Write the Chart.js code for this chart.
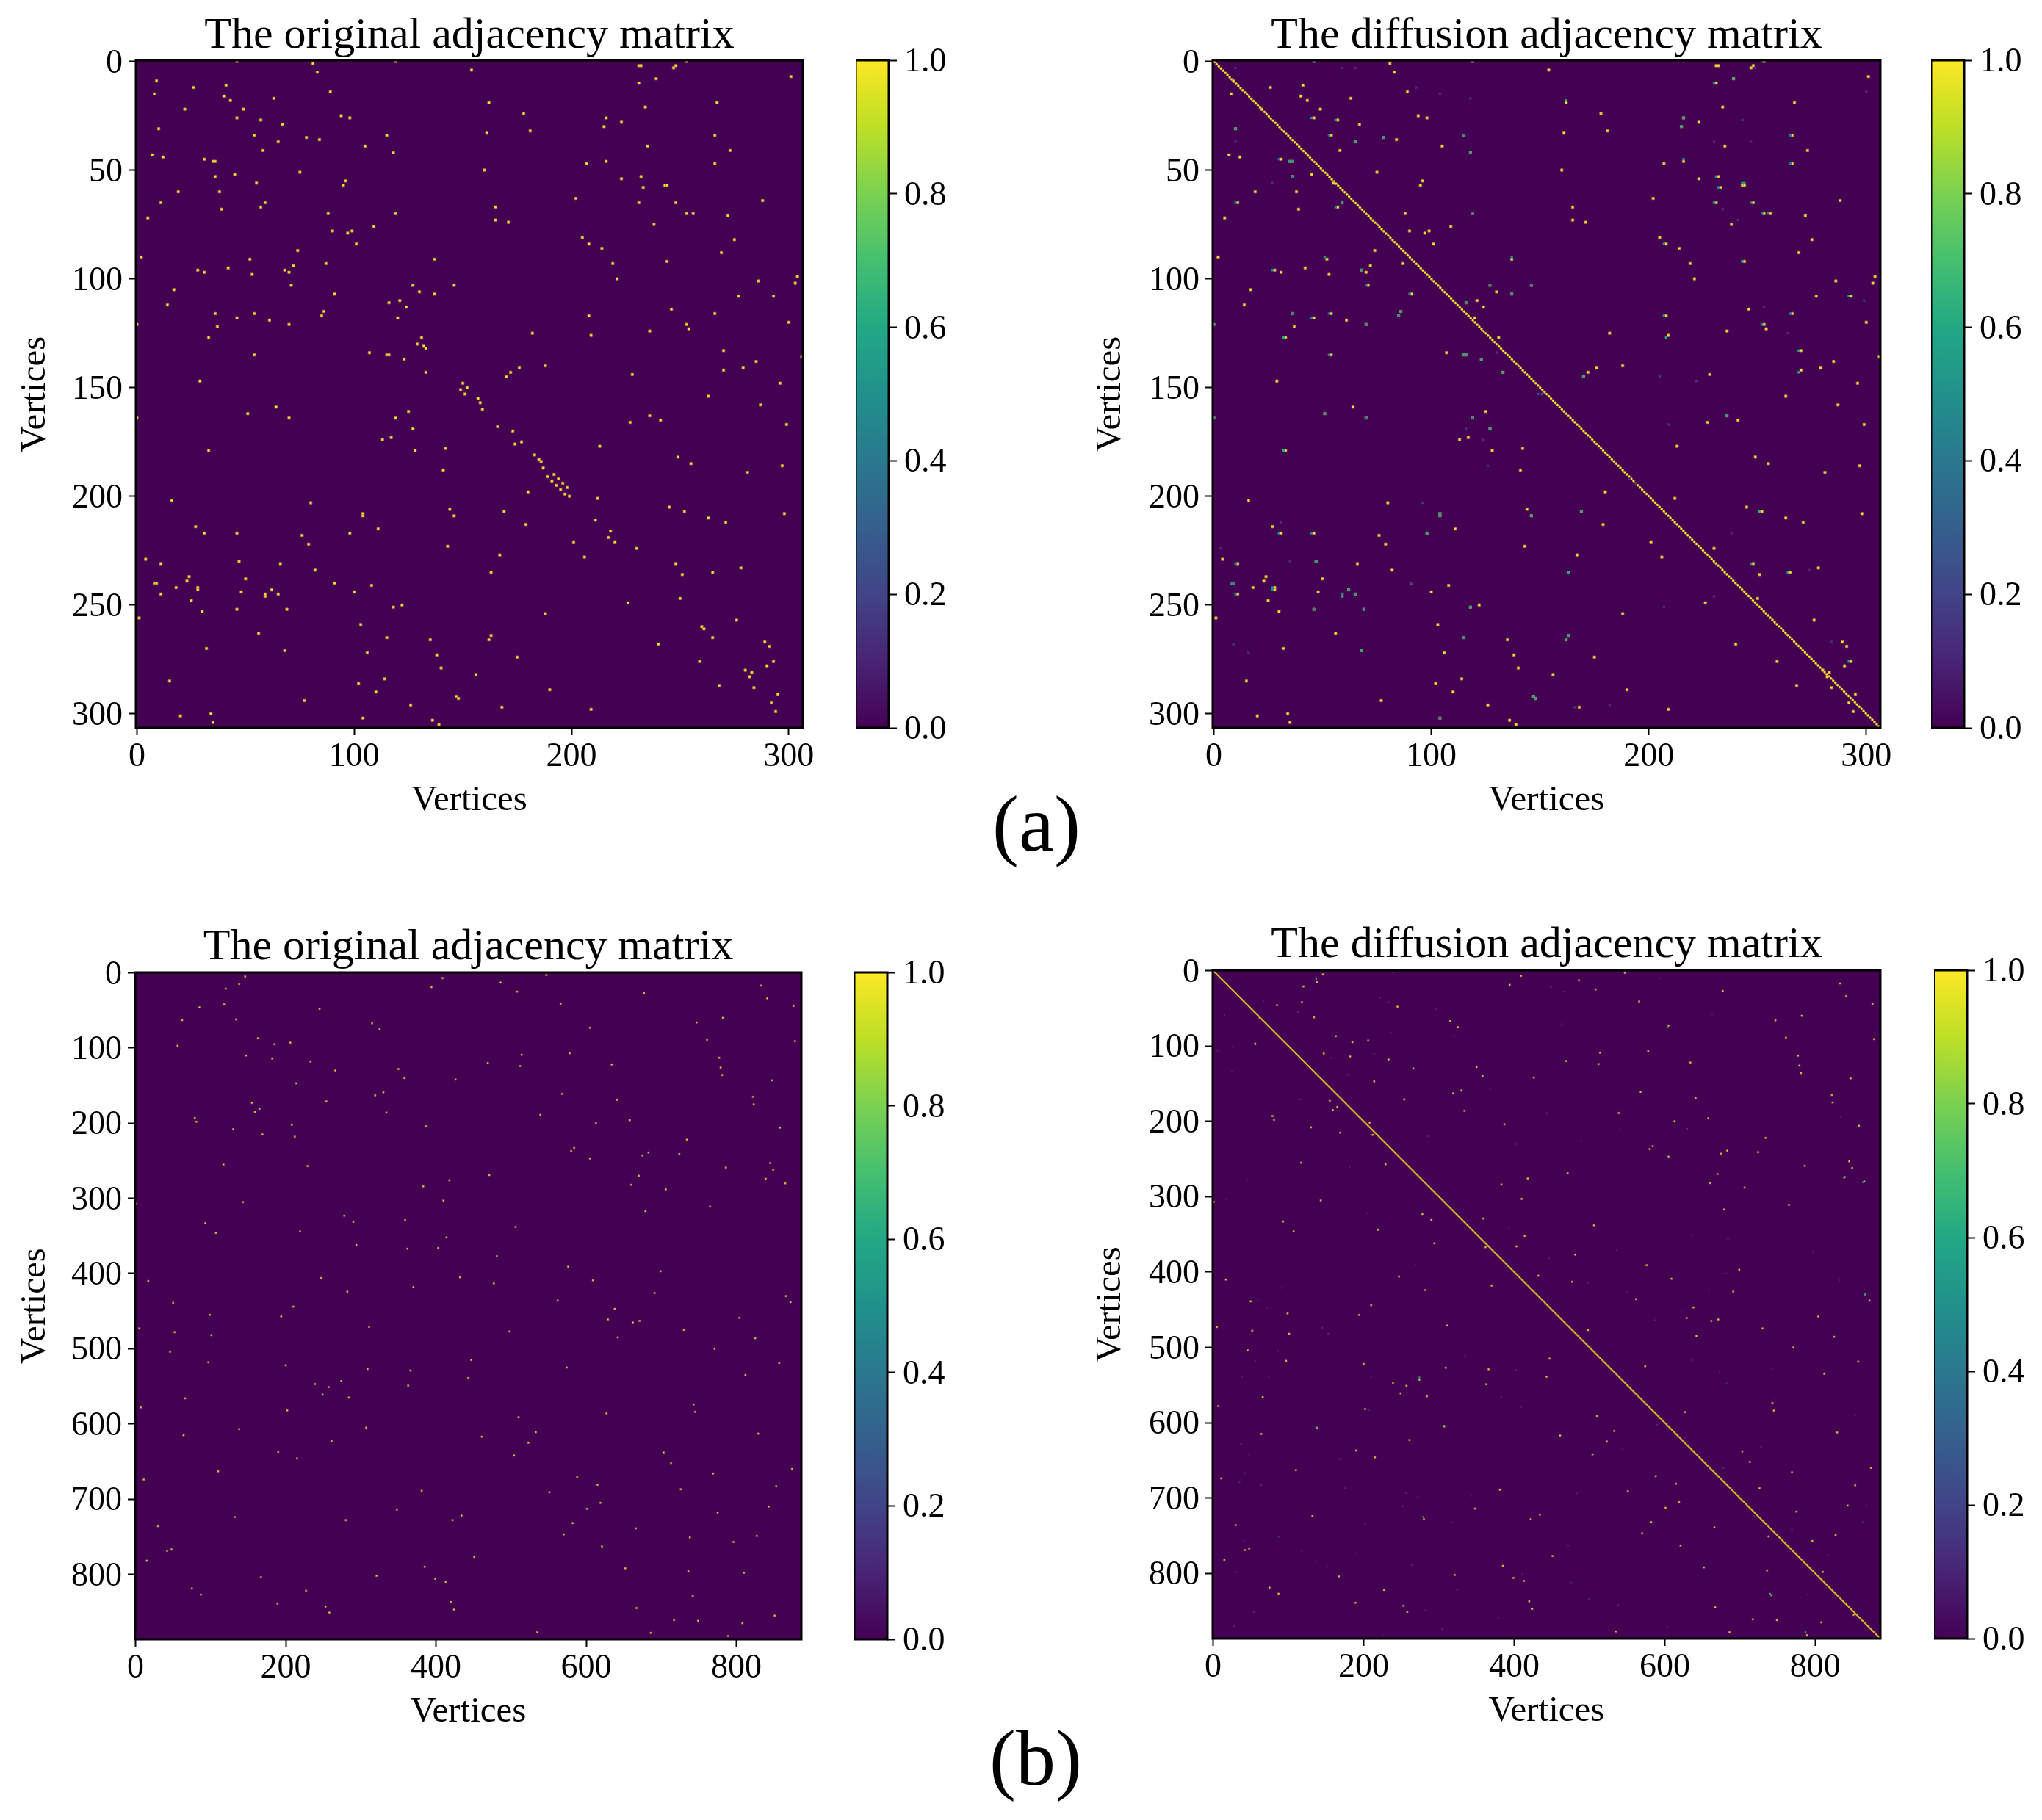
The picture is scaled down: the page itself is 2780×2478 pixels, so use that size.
<!DOCTYPE html>
<html>
<head>
<meta charset="utf-8">
<title>Adjacency matrices</title>
<script src="https://cdn.jsdelivr.net/npm/chart.js@4/dist/chart.umd.js"></script>
<style>
html,body{margin:0;padding:0;background:#fff;width:2780px;height:2478px;overflow:hidden}
canvas{position:absolute;display:block}
.cap{position:absolute;font-family:"Liberation Serif",serif;font-size:108px;line-height:1;color:#000;transform:translate(-50%,-50%)}
</style>
</head>
<body>
<div id="root"></div>
<div class="cap" style="left:1411px;top:1122px">(a)</div>
<div class="cap" style="left:1410px;top:2394px">(b)</div>
<script>
const titleOriginal = "The original adjacency matrix";
const titleDiffusion = "The diffusion adjacency matrix";
const axisLabel = "Vertices";
const colorbarTicks = [0, 0.2, 0.4, 0.6, 0.8, 1];
const xTicksA = [0, 100, 200, 300];
const yTicksA = [0, 50, 100, 150, 200, 250, 300];
const xTicksB = [0, 200, 400, 600, 800];
const yTicksB = [0, 100, 200, 300, 400, 500, 600, 700, 800];
const rangeA = [-0.5, 306.5];
const rangeB = [-0.5, 886.5];
const diagonalA = [0, 306];
const diagonalB = [0, 886];

// non-zero cells of the original matrix (a): [column, row]
const edgesA = [[46,0],[81,1],[119,0],[83,5],[9,9],[26,12],[41,11],[8,15],[89,14],[40,16],[43,18],[63,17],[22,22],[49,22],[94,25],[98,26],[46,26],[57,27],[67,29],[10,31],[54,34],[115,34],[78,35],[84,36],[65,37],[105,39],[58,41],[118,42],[7,43],[12,44],[31,45],[35,46],[36,46],[75,51],[45,52],[36,53],[55,56],[96,55],[95,57],[38,60],[19,60],[11,65],[59,65],[57,67],[39,68],[5,72],[119,70],[88,70],[109,76],[90,78],[99,78],[97,79],[101,84],[74,87],[2,90],[52,91],[137,91],[87,93],[72,94],[42,95],[28,96],[31,97],[68,96],[70,97],[53,98],[71,103],[17,105],[127,103],[146,103],[130,106],[91,107],[137,107],[121,110],[116,111],[14,112],[124,113],[36,116],[54,116],[86,115],[85,117],[46,118],[120,118],[61,119],[70,121],[0,121],[37,122],[33,127],[131,127],[129,130],[132,131],[133,132],[107,134],[115,135],[116,135],[54,135],[123,137],[133,143],[29,147],[150,148],[152,150],[149,151],
[154,4],[231,2],[232,2],[248,2],[253,0],[247,3],[239,8],[231,10],[301,7],[162,19],[234,21],[267,19],[178,24],[216,26],[223,28],[215,30],[181,32],[161,33],[266,34],[235,39],[273,41],[207,47],[216,46],[266,47],[160,50],[223,54],[232,53],[243,57],[244,57],[233,58],[202,63],[231,65],[248,65],[288,64],[165,67],[253,70],[256,70],[272,71],[165,73],[171,74],[238,75],[205,81],[208,84],[214,86],[275,82],[269,88],[244,92],[219,93],[221,100],[304,99],[286,101],[303,102],[277,108],[293,108],[246,114],[266,116],[208,117],[300,120],[253,121],[254,123],[236,124],[182,125],[209,126],[270,133],[306,136],[285,138],[188,140],[279,141],[176,141],[172,143],[170,145],[228,144],[270,142],[296,148],
[151,153],[64,159],[51,162],[0,164],[70,164],[125,161],[119,164],[127,169],[113,174],[117,173],[33,179],[128,179],[142,178],[141,188],[16,202],[80,203],[104,208],[104,209],[144,206],[146,209],[27,214],[31,217],[46,217],[111,215],[98,217],[76,218],[79,222],[143,223],[4,229],[11,231],[47,230],[66,231],[82,234],[24,237],[23,239],[8,240],[9,240],[50,238],[18,242],[28,242],[28,243],[62,243],[91,240],[108,241],[100,244],[11,245],[48,244],[59,245],[59,246],[65,245],[25,248],[46,252],[69,252],[30,253],[118,251],[122,250],[1,256],[103,259],[56,263],[115,265],[135,266],[32,270],[68,271],[106,272],[138,273],[140,279],[15,285],[114,284],[102,286],[110,290],[77,294],[147,292],[148,293],[126,296],[20,301],[34,300],[35,304],[104,302],[136,303],[139,305],
[157,155],[158,157],[159,160],[166,168],[173,170],[174,176],[177,175],[183,181],[185,183],[186,184],[187,187],[189,191],[192,190],[191,193],[194,192],[193,195],[196,194],[195,197],[198,196],[197,199],[199,200],[180,198],[212,201],[169,207],[179,213],[211,211],[218,216],[217,219],[220,221],[201,221],[230,224],[167,227],[206,228],[163,235],[213,177],[227,166],[236,163],[241,165],[263,154],[287,158],[299,167],[249,182],[255,185],[297,186],[281,189],[245,205],[252,207],[263,210],[271,212],[298,208],[248,231],[251,236],[265,235],[278,233],[250,247],[226,249],[188,254],[276,257],[260,260],[261,261],[265,265],[163,264],[162,266],[240,268],[289,267],[291,269],[175,274],[259,276],[293,276],[290,278],[280,280],[283,281],[282,283],[156,282],[268,287],[284,288],[190,289],[295,291],[292,295],[294,299],[168,297],[209,298]];

// cells of edgesA that vanish into the diagonal band of the diffusion matrix: [column, row]
const absorbedA = [[129,130],[132,131],[133,132],[150,148],[152,150],[149,151],[151,153],[157,155],[158,157],[159,160],[166,168],[183,181],[185,183],[186,184],[187,187],[189,191],[192,190],[191,193],[194,192],[193,195],[196,194],[195,197],[198,196],[197,199],[199,200],[211,211],[218,216],[217,219],[220,221],[260,260],[261,261],[265,265],[173,170],[174,176],[177,175]];

// cells whose value differs from 1 in the diffusion matrix (a): [column, row, value]
const diffusedA = [[46,0,.5],[119,0,.5],[252,0,.5],[230,10,.5],[239,8,.65],[162,18,.65],[56,27,.5],[45,26,.45],[216,26,.6],[215,30,.6],[10,31,.6],[78,35,.55],[65,37,.6],[53,34,.4],[115,34,.45],[118,42,.55],[265,34,.4],[265,47,.4],[30,45,.4],[35,46,.55],[36,46,.55],[216,45,.45],[36,53,.45],[231,53,.5],[232,58,.5],[243,56,.55],[244,56,.55],[230,65,.5],[247,65,.5],[252,70,.4],[255,70,.5],[10,65,.45],[56,67,.4],[59,65,.55],[119,70,.4],[243,92,.65],[207,84,.55],[27,96,.5],[68,96,.6],[51,90,.5],[70,103,.4],[137,90,.5],[146,103,.45],[137,107,.5],[127,103,.4],[116,111,.45],[90,107,.4],[86,115,.55],[85,117,.5],[36,116,.45],[45,118,.45],[53,116,.45],[70,121,.5],[0,121,.55],[207,117,.55],[252,121,.5],[265,116,.4],[32,127,.6],[208,127,.6],[53,135,.45],[115,135,.55],[116,135,.55],[123,137,.6],[133,143,.6],[170,145,.6],[269,133,.6],[269,143,.6],[292,108,.6],[0,164,.5],[51,162,.5],[70,164,.45],[119,164,.5],[236,163,.6],[127,169,.6],[32,179,.6],[104,208,.5],[104,209,.5],[146,209,.6],[169,207,.6],[251,207,.65],[45,217,.45],[98,217,.6],[30,217,.6],[10,231,.45],[47,230,.6],[247,231,.5],[264,235,.6],[163,235,.6],[9,240,.45],[8,240,.45],[27,242,.5],[27,243,.5],[10,245,.5],[62,243,.6],[65,245,.55],[59,245,.45],[59,246,.45],[46,252,.45],[69,252,.55],[118,251,.6],[115,265,.5],[68,271,.6],[163,264,.55],[162,266,.6],[292,276,.6],[147,292,.6],[148,293,.6],[104,302,.5],
[10,3,.12],[59,3,.12],[65,3,.12],[93,12,.12],[104,15,.12],[118,17,.12],[10,37,.12],[27,56,.12],[205,145,.15],[222,147,.15],[149,153,.2],[151,153,.25],[130,134,.15],[209,167,.12],[124,174,.12],[116,169,.12],[126,186,.12],[96,203,.15],[31,212,.12],[3,224,.12],[35,230,.12],[91,240,.12],[230,246,.12],[207,251,.12],[9,268,.15],[16,272,.12],[191,192,.12],[194,194,.12],[284,267,.12],[238,217,.12],[274,234,.12],[182,296,.12],[166,297,.15],[249,3,.12],[300,14,.12],[243,27,.12],[230,37,.12],[247,37,.12],[234,68,.12],[241,73,.12],[253,113,.12],[299,110,.12],[264,125,.12]];

// non-zero cells of the original matrix (b): [column, row]
const edgesB = [[146,5],[409,7],[547,3],[486,13],[138,15],[120,21],[394,19],[508,25],[677,27],[833,17],[841,34],[566,41],[118,42],[85,46],[245,48],[876,44],[62,63],[134,62],[315,67],[325,75],[605,73],[747,66],[782,60],[163,87],[185,95],[206,93],[56,97],[761,89],[878,91],[147,110],[182,114],[233,118],[514,109],[578,107],[469,120],[512,124],[634,122],[777,113],[779,126],[781,136],[266,130],[350,128],[358,140],[426,142],[214,147],[847,143],[319,163],[330,159],[568,161],[641,169],[822,165],[823,175],[155,173],[159,185],[165,181],[254,171],[334,186],[539,189],[79,193],[81,198],[208,202],[613,200],[658,196],[387,204],[130,208],[169,215],[212,218],[858,206],[734,222],[580,237],[584,233],[675,243],[683,239],[724,241],[605,247],[117,255],[229,257],[845,253],[849,262],[786,259],[670,270],[660,282],[706,288],[471,269],[418,276],[383,284],[839,274],[865,280],[410,303],[1,307],[143,305],[765,311],[679,317],[278,323],[290,331],[359,329],[93,333],[107,346],[219,344],[506,338],[414,352],[403,366],[294,362],[362,367],[481,377],[576,391],[699,397],[17,410],[247,406],[432,405],[477,413],[609,409],[370,418],[282,424],[691,426],[866,430],[872,438],[50,439],[210,444],[562,436],[99,455],[194,457],[638,447],[629,461],[662,465],[671,463],[804,459],[5,473],[52,478],[101,482],[311,471],[498,477],[730,475],[642,485],[825,486],[46,504],[771,500],[97,518],[200,522],[447,515],[857,519],[574,525],[309,527],[366,529],[812,535],[239,547],[257,551],[274,543],[443,539],[363,549],[249,561],[284,565],[66,566],[7,578],[743,574],[745,584],[202,582],[627,586],[510,591],[138,607],[307,605],[533,611],[64,615],[461,617],[829,613],[261,623],[523,625],[190,637],[703,638],[215,646],[504,642],[713,652],[110,663],[769,666],[874,660],[11,674],[588,671],[615,681],[381,689],[551,691],[726,687],[853,683],[619,705],[843,710],[348,714],[601,713],[775,718],[132,724],[280,728],[422,728],[434,722],[582,732],[30,736],[666,739],[570,747],[738,751],[827,749],[796,757],[42,769],[48,767],[621,763],[451,777],[15,782],[385,790],[652,792],[736,796],[810,798],[167,804],[321,802],[399,806],[413,810],[75,819],[227,822],[87,827],[742,829],[189,839],[420,837],[253,843],[667,845],[258,851],[424,847],[851,855],[717,861],[749,862],[808,865],[535,877],[686,878],[789,882]];

// cells whose value differs from 1 in the diffusion matrix (b): [column, row, value]
const diffusedB = [[137,11,.6],[56,98,.6],[604,75,.5],[604,248,.5],[838,275,.6],[863,281,.5],[274,540,.6],[137,606,.6],[307,604,.6],[279,725,.6],[866,430,.5],[740,827,.6],[787,878,.6],
[239,3,.1],[593,10,.1],[449,22,.12],[466,28,.12],[67,40,.12],[222,36,.1],[233,42,.12],[113,55,.12],[15,59,.12],[297,51,.12],[663,58,.1],[463,71,.1],[236,82,.1],[320,87,.1],[26,101,.1],[6,106,.1],[214,111,.12],[157,116,.1],[25,134,.1],[179,138,.1],[116,171,.1],[368,157,.1],[443,189,.1],[834,194,.12],[540,211,.1],[630,210,.1],[489,226,.1],[403,230,.1],[482,249,.1],[285,220,.1],[182,260,.1],[45,278,.1],[18,303,.15],[205,322,.1],[393,341,.1],[636,351,.1],[684,356,.1],[797,374,.1],[536,371,.1],[446,382,.1],[269,390,.1],[682,402,.1],[832,411,.1],[91,421,.1],[498,414,.1],[549,427,.1],[659,424,.1],[59,436,.1],[72,447,.1],[622,453,.1],[587,464,.1],[145,474,.1],[153,482,.1],[86,505,.1],[56,518,.1],[335,511,.1],[673,533,.1],[637,517,.1],[38,539,.1],[74,539,.1],[210,539,.1],[402,530,.1],[743,528,.1],[383,566,.1],[682,548,.1],[746,568,.1],[409,579,.1],[207,583,.1],[853,590,.1],[590,603,.1],[627,620,.1],[728,632,.1],[37,628,.1],[47,644,.1],[168,648,.1],[544,634,.1],[42,667,.1],[35,679,.1],[64,683,.1],[175,687,.1],[272,698,.1],[256,693,.1],[343,697,.1],[483,694,.1],[678,660,.12],[868,710,.1],[863,732,.1],[252,711,.1],[719,724,.1],[202,734,.12],[317,732,.1],[87,752,.1],[472,763,.1],[769,742,.1],[41,757,.1],[817,776,.1],[118,771,.1],[191,773,.1],[137,784,.1],[31,798,.1],[152,791,.1],[264,789,.1],[411,801,.1],[476,812,.1],[790,828,.1],[499,834,.1],[538,842,.1],[324,822,.1],[54,851,.1],[282,849,.1],[28,870,.1],[379,859,.1],[304,874,.1],[603,871,.1],[225,882,.1]];

const viridis = [[68,1,84],[72,36,117],[65,68,135],[53,95,141],[42,120,142],[33,145,140],[34,168,132],[68,191,112],[122,209,81],[189,223,38],[253,231,37]];
const SERIF = '"Liberation Serif", "Times New Roman", serif';
const TITLE_SIZE = 60, LABEL_SIZE = 49, TICK_SIZE = 46, TEXT_DROP = 3;

function colorOf(v) {
  const t = Math.max(0, Math.min(1, v)) * (viridis.length - 1);
  const i = Math.min(Math.floor(t), viridis.length - 2), f = t - i;
  const c = viridis[i].map((a, k) => Math.round(a + (viridis[i + 1][k] - a) * f));
  return `rgb(${c[0]},${c[1]},${c[2]})`;
}

const framePlugin = {
  id: 'frame',
  beforeDatasetsDraw(chart, args, opts) {
    if (!opts.fill) return;
    const a = chart.chartArea, c = chart.ctx;
    c.save(); c.fillStyle = opts.fill; c.fillRect(a.left, a.top, a.width, a.height); c.restore();
  },
  afterDraw(chart) {
    const a = chart.chartArea, c = chart.ctx;
    c.save(); c.strokeStyle = '#000'; c.lineWidth = 3;
    c.strokeRect(a.left, a.top, a.width, a.height); c.restore();
  }
};

function addCanvas(left, top, w, h) {
  const cv = document.createElement('canvas');
  cv.width = w; cv.height = h;
  cv.style.left = left + 'px'; cv.style.top = top + 'px';
  cv.style.width = w + 'px'; cv.style.height = h + 'px';
  document.getElementById('root').appendChild(cv);
  return cv;
}

function matrixPanel(g, title, range, xTicks, yTicks, datasets) {
  const titleTop = g.titleCenter + TEXT_DROP - TITLE_SIZE / 2;
  const canvasH = g.bottom + 124;
  const canvasW = g.right + 60;
  new Chart(addCanvas(g.canvasLeft, 0, canvasW - g.canvasLeft, canvasH), {
    type: 'scatter',
    data: { datasets },
    plugins: [framePlugin],
    options: {
      responsive: false, animation: false, devicePixelRatio: 1,
      layout: { autoPadding: false, padding: { left: 0, right: 60, top: 0, bottom: 0 } },
      plugins: {
        legend: { display: false }, tooltip: { enabled: false },
        frame: { fill: '#440154' },
        title: {
          display: true, text: title, color: '#000', fullSize: false,
          font: { family: SERIF, size: TITLE_SIZE, weight: 'normal', lineHeight: 1 },
          padding: { top: titleTop, bottom: g.top - titleTop - TITLE_SIZE }
        }
      },
      scales: {
        x: {
          type: 'linear', position: 'bottom', min: range[0], max: range[1],
          afterBuildTicks: s => { s.ticks = xTicks.map(v => ({ value: v })); },
          afterFit: s => { s.height = canvasH - g.bottom; },
          grid: { display: true, drawOnChartArea: false, drawTicks: true, tickLength: 10, tickColor: '#000', tickWidth: 2 },
          border: { display: false },
          ticks: { color: '#000', padding: 7, maxRotation: 0, autoSkip: false, font: { family: SERIF, size: TICK_SIZE, lineHeight: 1 } },
          title: { display: true, text: axisLabel, color: '#000', padding: { top: 0, bottom: 0 }, font: { family: SERIF, size: LABEL_SIZE, lineHeight: 1 } }
        },
        y: {
          type: 'linear', position: 'left', min: range[0], max: range[1], reverse: true,
          afterBuildTicks: s => { s.ticks = yTicks.map(v => ({ value: v })); },
          afterFit: s => { s.width = g.left - g.canvasLeft; },
          grid: { display: true, drawOnChartArea: false, drawTicks: true, tickLength: 10, tickColor: '#000', tickWidth: 2 },
          border: { display: false },
          ticks: { color: '#000', padding: 8, labelOffset: TEXT_DROP, autoSkip: false, font: { family: SERIF, size: TICK_SIZE, lineHeight: 1 } },
          title: { display: true, text: axisLabel, color: '#000', padding: { top: g.labelInset, bottom: 0 }, font: { family: SERIF, size: LABEL_SIZE, lineHeight: 1 } }
        }
      }
    }
  });
}

function colorbar(b) {
  const pad = 34, w = 190;
  new Chart(addCanvas(b.left, b.top - pad, w, b.bottom - b.top + 2 * pad), {
    type: 'bar',
    data: {
      labels: ['colorbar'],
      datasets: [{
        data: [[colorbarTicks[0], colorbarTicks[colorbarTicks.length - 1]]],
        categoryPercentage: 1, barPercentage: 1, borderWidth: 0,
        backgroundColor(ctx) {
          const a = ctx.chart.chartArea;
          if (!a) return colorOf(0);
          const g = ctx.chart.ctx.createLinearGradient(0, a.bottom, 0, a.top);
          viridis.forEach((c, i) => g.addColorStop(i / (viridis.length - 1), `rgb(${c})`));
          return g;
        }
      }]
    },
    plugins: [framePlugin],
    options: {
      responsive: false, animation: false, devicePixelRatio: 1,
      layout: { autoPadding: false, padding: { left: 0, right: 0, top: pad, bottom: pad } },
      plugins: { legend: { display: false }, tooltip: { enabled: false } },
      scales: {
        x: { display: false },
        y: {
          position: 'right', min: 0, max: 1,
          afterBuildTicks: s => { s.ticks = colorbarTicks.map(v => ({ value: v })); },
          afterFit: s => { s.width = w - 45; },
          grid: { display: true, drawOnChartArea: false, drawTicks: true, tickLength: 11, tickColor: '#000', tickWidth: 2 },
          border: { display: false },
          ticks: { color: '#000', padding: 10, labelOffset: TEXT_DROP, autoSkip: false, callback: v => v.toFixed(1), font: { family: SERIF, size: TICK_SIZE, lineHeight: 1 } }
        }
      }
    }
  });
}

const toPoints = list => list.map(p => ({ x: p[0], y: p[1] }));
const edgeSet = (list, radius, fill, halo) => ({
  data: toPoints(list), pointStyle: 'rect', pointRadius: radius,
  pointBackgroundColor: fill, pointBorderColor: halo, pointBorderWidth: 1
});
const diffSet = (list, radius) => ({
  data: toPoints(list), pointStyle: 'rect', pointRadius: radius,
  pointBackgroundColor: list.map(p => colorOf(p[2])), pointBorderWidth: 0
});
const diagSet = (ends, width, color, dash) => ({
  data: ends.map(v => ({ x: v, y: v })), showLine: true, pointRadius: 0,
  borderColor: color, borderWidth: width, borderDash: dash || []
});
const absorbedKeys = new Set(absorbedA.map(String));
const edgesAKept = edgesA.filter(p => !absorbedKeys.has(String(p)));

const YEL = '#fde725', HALO_A = 'rgba(190,130,70,0.75)', GOLD = '#f6cc3e', HALO_B = 'rgba(170,110,70,0.55)';

matrixPanel({ canvasLeft: 0, left: 185, right: 1093, top: 82, bottom: 991, titleCenter: 46, labelInset: 24 },
  titleOriginal, rangeA, xTicksA, yTicksA, [edgeSet(edgesA, 2.4, YEL, HALO_A)]);
matrixPanel({ canvasLeft: 1440, left: 1651, right: 2560, top: 82, bottom: 991, titleCenter: 46, labelInset: 48 },
  titleDiffusion, rangeA, xTicksA, yTicksA,
  [diffSet(diffusedA, 2.4), edgeSet(edgesAKept, 2.4, YEL, HALO_A), diagSet(diagonalA, 3, YEL, [2.6, 1.58]), diagSet(diagonalA, 1.2, '#b08a3a')]);
matrixPanel({ canvasLeft: 0, left: 184, right: 1091, top: 1324, bottom: 2232, titleCenter: 1287, labelInset: 24 },
  titleOriginal, rangeB, xTicksB, yTicksB, [edgeSet(edgesB, 1.6, GOLD, HALO_B)]);
matrixPanel({ canvasLeft: 1440, left: 1651, right: 2560, top: 1321, bottom: 2231, titleCenter: 1284, labelInset: 48 },
  titleDiffusion, rangeB, xTicksB, yTicksB,
  [diffSet(diffusedB, 1.6), edgeSet(edgesB, 1.6, GOLD, HALO_B), diagSet(diagonalB, 2.2, '#e0b424')]);

colorbar({ left: 1165, top: 82, bottom: 991 });
colorbar({ left: 2629, top: 82, bottom: 991 });
colorbar({ left: 1163, top: 1324, bottom: 2232 });
colorbar({ left: 2633, top: 1321, bottom: 2231 });
</script>
</body>
</html>
